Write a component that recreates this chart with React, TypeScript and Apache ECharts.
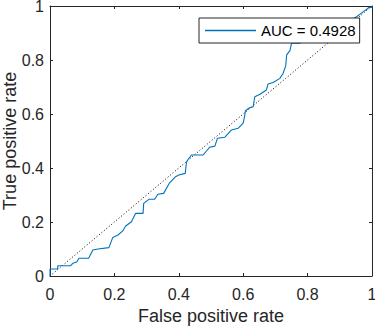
import React, { useEffect, useRef } from "react";
import * as echarts from "echarts";

const fpr = [
  0, 0, 0.024, 0.024, 0.064, 0.071, 0.083, 0.09, 0.12, 0.133, 0.149, 0.183, 0.195, 0.211,
  0.226, 0.235, 0.253, 0.266, 0.289, 0.291, 0.307, 0.325, 0.335, 0.353, 0.37, 0.39, 0.4,
  0.42, 0.424, 0.439, 0.475, 0.486, 0.496, 0.512, 0.52, 0.543, 0.564, 0.584, 0.6, 0.605,
  0.607, 0.62, 0.631, 0.636, 0.652, 0.672, 0.677, 0.693, 0.714, 0.724, 0.732, 0.735, 0.745,
  0.75, 0.776, 0.8, 0.86, 0.92, 0.952, 0.963, 0.973, 0.984, 0.99, 1, 1,
];
const tpr = [
  0, 0.026, 0.026, 0.038, 0.038, 0.047, 0.052, 0.066, 0.066, 0.096, 0.1, 0.105, 0.143, 0.152,
  0.167, 0.185, 0.201, 0.232, 0.232, 0.269, 0.284, 0.284, 0.303, 0.306, 0.343, 0.368, 0.374,
  0.38, 0.423, 0.448, 0.448, 0.463, 0.477, 0.481, 0.51, 0.514, 0.541, 0.547, 0.566, 0.596,
  0.612, 0.623, 0.627, 0.664, 0.673, 0.689, 0.711, 0.717, 0.732, 0.751, 0.778, 0.819, 0.835,
  0.862, 0.862, 0.88, 0.91, 0.94, 0.96, 0.97, 0.979, 0.988, 0.995, 0.995, 1,
];
const diagX = [0, 1];
const diagY = [0, 1];
const legendLabel = "AUC = 0.4928";
const xTitle = "False positive rate";
const yTitle = "True positive rate";

const FONT = "'Liberation Sans', Arial, Helvetica, sans-serif";
const AX = "#262626";
const BLUE = "#0072BD";

export default function App() {
  const ref = useRef<HTMLDivElement>(null);
  useEffect(() => {
    if (!ref.current) return;
    const chart = echarts.init(ref.current, null, { renderer: "svg" });
    const axisCommon = {
      type: "value" as const,
      min: 0,
      max: 1,
      interval: 0.2,
      splitLine: { show: false },
      axisLine: { show: true, onZero: false, lineStyle: { color: AX, width: 1 } },
      axisTick: { show: true, inside: true, length: 3, lineStyle: { color: AX, width: 1 } },
    };
    chart.setOption({
      animation: false,
      backgroundColor: "#fff",
      textStyle: { fontFamily: FONT },
      grid: {
        left: 50,
        top: 6,
        width: 322,
        height: 270,
        containLabel: false,
        outerBoundsMode: "none",
      },
      graphic: [
        {
          type: "text",
          x: 10,
          y: 141,
          rotation: Math.PI / 2,
          style: {
            text: yTitle,
            fontSize: 18,
            fontFamily: FONT,
            fill: AX,
            align: "center",
            verticalAlign: "middle",
          },
        },
      ],
      legend: {
        show: true,
        data: [{ name: legendLabel, icon: "rect" }],
        left: 199,
        top: 18,
        orient: "horizontal",
        padding: [5, 4, 5, 6],
        itemWidth: 51,
        itemHeight: 1.3,
        itemStyle: { color: BLUE, borderWidth: 0 },
        backgroundColor: "#fff",
        borderColor: AX,
        borderWidth: 1,
        borderRadius: 0,
        selectedMode: false,
        textStyle: { fontSize: 15, color: "#000", fontFamily: FONT, lineHeight: 14 },
      },
      xAxis: [
        {
          ...axisCommon,
          position: "bottom",
          name: xTitle,
          nameLocation: "middle",
          nameGap: 30,
          nameTextStyle: { fontSize: 18, color: AX, fontFamily: FONT },
          axisLabel: { show: true, margin: 10, fontSize: 16, color: AX, fontFamily: FONT },
        },
        {
          ...axisCommon,
          position: "top",
          axisLabel: { show: false },
        },
      ],
      yAxis: [
        {
          ...axisCommon,
          position: "left",
          axisLabel: { show: true, margin: 6, fontSize: 16, color: AX, fontFamily: FONT },
        },
        {
          ...axisCommon,
          position: "right",
          axisLabel: { show: false },
        },
      ],
      series: [
        {
          name: "diag",
          type: "line",
          data: diagX.map((x, i) => [x, diagY[i]]),
          symbol: "none",
          lineStyle: { color: "#000", width: 1, type: [1, 2.2] },
          silent: true,
          z: 1,
        },
        {
          name: legendLabel,
          type: "line",
          data: fpr.map((x, i) => [x, tpr[i]]),
          symbol: "none",
          color: BLUE,
          lineStyle: { color: BLUE, width: 1.1 },
          silent: true,
          z: 2,
        },
      ],
    });
    return () => chart.dispose();
  }, []);
  return <div ref={ref} style={{ width: 375, height: 329, position: "absolute", left: 0, top: 0 }} />;
}
